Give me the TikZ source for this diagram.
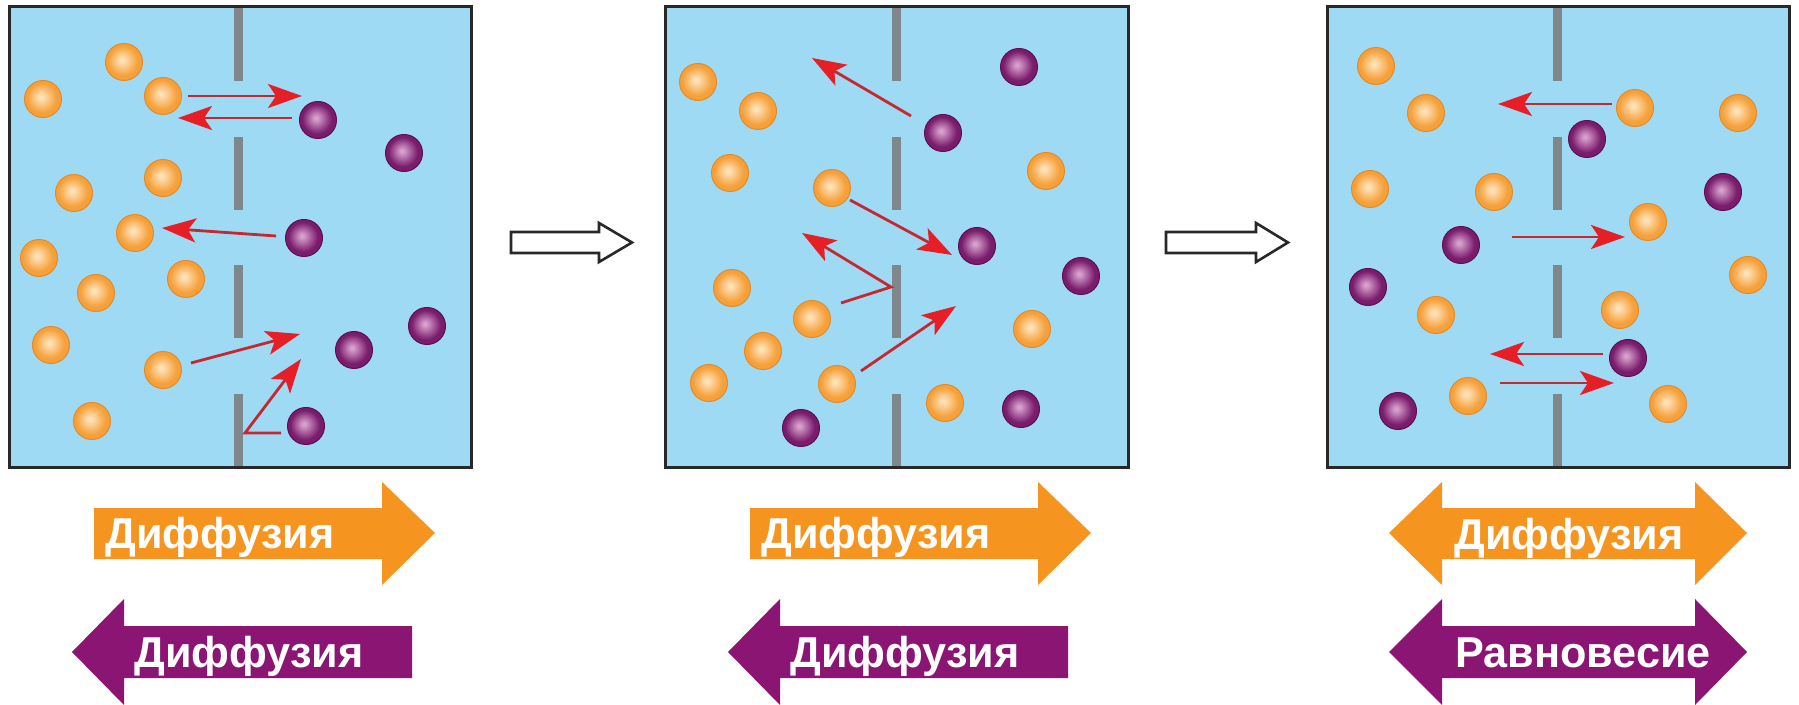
\documentclass[tikz,border=0pt]{standalone}
\usepackage{fontspec}
\newfontfamily\labelfont{Liberation Sans}
\usetikzlibrary{arrows.meta,positioning,calc}

\definecolor{water}{RGB}{158,218,244}
\definecolor{boxedge}{RGB}{40,40,40}
\definecolor{wallgray}{RGB}{128,135,140}
\definecolor{oball}{RGB}{246,160,58}
\definecolor{oballhi}{RGB}{255,226,185}
\definecolor{oballrim}{RGB}{228,138,40}
\definecolor{pball}{RGB}{122,28,108}
\definecolor{pballhi}{RGB}{215,160,205}
\definecolor{pballrim}{RGB}{92,14,82}
\definecolor{shaftred}{RGB}{196,40,48}
\definecolor{headred}{RGB}{230,30,38}
\definecolor{floworange}{RGB}{246,148,32}
\definecolor{flowpurple}{RGB}{139,21,114}

\pgfdeclareradialshading{orangeball}{\pgfqpoint{-3bp}{3bp}}{%
  color(0bp)=(oballhi); color(2bp)=(oballhi); color(20bp)=(oball);
  color(25bp)=(oball); color(40bp)=(oballrim)}
\pgfdeclareradialshading{purpleball}{\pgfqpoint{-3bp}{3bp}}{%
  color(0bp)=(pballhi); color(2bp)=(pballhi); color(20bp)=(pball);
  color(25bp)=(pball); color(40bp)=(pballrim)}

\tikzset{
    panel style/.style={draw=boxedge,line width=1.5pt},
    wall/.style={wallgray,line width=4.5pt},
    ball/.style={circle,inner sep=0pt,minimum size=18.5pt,shade,line width=.5pt},
    orange ball/.style={ball,shading=orangeball,draw=oballrim},
    purple ball/.style={ball,shading=purpleball,draw=pballrim},
    move arr/.style={draw=shaftred,line width=1.4pt,
        -{Stealth[length=17pt,width=12pt,inset=4pt,color=headred]}},
    step arr/.style={draw=boxedge,fill=white,line width=1.3pt,line join=miter},
    flow label/.style={text=white,inner sep=0pt,anchor=base,
        font=\labelfont\bfseries\fontsize{21.6}{22}\selectfont},
}

\begin{document}
\begin{tikzpicture}[x=.5pt,y=-.5pt]
    \fill[white] (0,0) rectangle (1799,705);
    \useasboundingbox (0,0) rectangle (1799,705);

    % the three vessels with a leaky wall in the middle
    \foreach \l/\r/\w [count=\i] in {9/471/238,665/1128/896,1327/1789/1557}{
        \fill[water] (\l,7) rectangle (\r,468);
        \foreach \a/\b in {7/81,137/210,265/338,394/468}
            \draw[wall] (\w,\a) -- (\w,\b);
        \draw[panel style] (\l,7) rectangle (\r,468);
    }

    % first vessel: all orange left, all purple right
    \foreach \x/\y [count=\i] in {124/62,43/99,163/96,74/193,163/178,135/233,
                                  39/258,186/279,96/293,51/345,163/370,92/421}
        \node[orange ball] (oa\i) at (\x,\y) {};
    \foreach \x/\y [count=\i] in {318/120,404/153,304/238,354/350,427/326,306/426}
        \node[purple ball] (pa\i) at (\x,\y) {};
    \draw[move arr] (188,96) -- (302,96);
    \draw[move arr] (292,118) -- (178,118);
    \draw[move arr] (276,236) -- (162,228);
    \draw[move arr] (191,363) -- (300,334);
    \draw[move arr] (281,433) -- (245,433) -- (301,359);

    % second vessel: mixing under way
    \foreach \x/\y [count=\i] in {698/82,758/111,730/173,832/188,1046/171,732/288,
                                  812/319,763/351,709/383,837/384,1032/329,945/403}
        \node[orange ball] (ob\i) at (\x,\y) {};
    \foreach \x/\y [count=\i] in {1019/67,943/133,977/246,1081/276,801/428,1021/409}
        \node[purple ball] (pb\i) at (\x,\y) {};
    \draw[move arr] (911,116) -- (812,58);
    \draw[move arr] (850,200) -- (952,255);
    \draw[move arr] (841,303) -- (891,287) -- (802,233);
    \draw[move arr] (861,371) -- (956,306);

    % third vessel: evenly spread
    \foreach \x/\y [count=\i] in {1376/66,1426/113,1635/108,1738/113,1370/189,1494/192,
                                  1648/222,1748/275,1436/315,1620/310,1468/396,1668/404}
        \node[orange ball] (oc\i) at (\x,\y) {};
    \foreach \x/\y [count=\i] in {1587/139,1723/192,1461/245,1368/287,1628/358,1398/411}
        \node[purple ball] (pc\i) at (\x,\y) {};
    \draw[move arr] (1612,104) -- (1498,104);
    \draw[move arr] (1512,237) -- (1625,237);
    \draw[move arr] (1603,354) -- (1490,354);
    \draw[move arr] (1500,383) -- (1614,383);

    % open arrows between the stages
    \foreach \s/\h/\t in {511/599/632,1166/1256/1288}
        \draw[step arr] (\s,232) -- (\h,232) -- (\h,223) -- (\t,242.5)
            -- (\h,262) -- (\h,253) -- (\s,253) -- cycle;

    % net flow arrows under each vessel
    \foreach \dx in {0,656}{
        \fill[floworange,shift={(\dx,0)}] (94,508) -- (382,508) -- (382,482)
            -- (435,533) -- (382,585) -- (382,559) -- (94,559) -- cycle;
        \fill[flowpurple,shift={(\dx,0)}] (72,652) -- (124,599) -- (124,626)
            -- (412,626) -- (412,678) -- (124,678) -- (124,705) -- cycle;
    }
    \fill[floworange] (1389,533) -- (1442,482) -- (1442,508) -- (1695,508)
        -- (1695,482) -- (1747,533) -- (1695,585) -- (1695,559)
        -- (1442,559) -- (1442,585) -- cycle;
    \fill[flowpurple] (1389,652) -- (1442,599) -- (1442,626) -- (1695,626)
        -- (1695,599) -- (1747,652) -- (1695,705) -- (1695,678)
        -- (1442,678) -- (1442,705) -- cycle;

    \node[flow label] (dif1) at (220,548) {Диффузия};
    \node[flow label] (dif2) at (249,667) {Диффузия};
    \node[flow label] (dif3) at (876,548) {Диффузия};
    \node[flow label] (dif4) at (905,667) {Диффузия};
    \node[flow label] (dif5) at (1569,549) {Диффузия};
    \node[flow label] (eq) at (1583,667) {Равновесие};
\end{tikzpicture}
\end{document}
